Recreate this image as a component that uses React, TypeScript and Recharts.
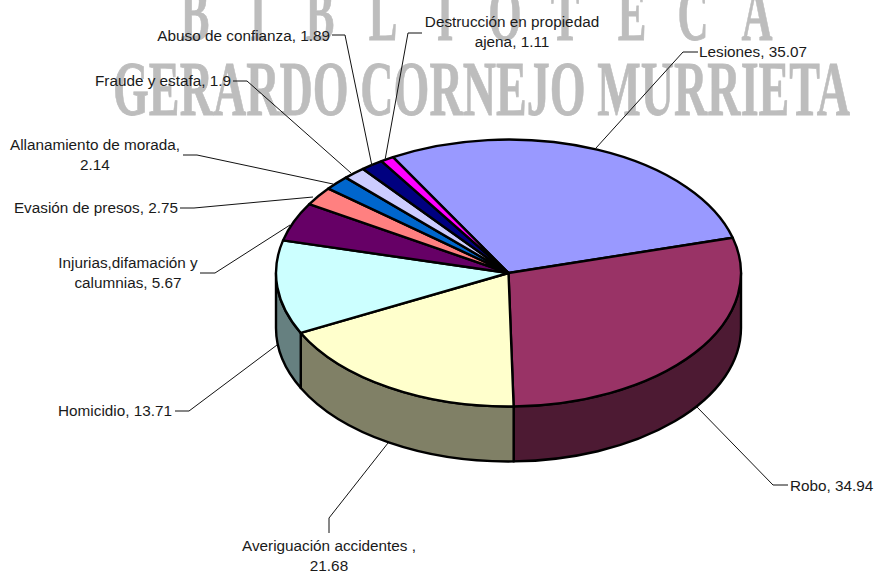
// App.tsx - 3D looking pie of offences, elliptical sectors drawn through Pie shape
import React from "react";
import { PieChart, Pie } from "recharts";

const categories = [
  "Lesiones",
  "Robo",
  "Averiguación accidentes",
  "Homicidio",
  "Injurias,difamación y calumnias",
  "Evasión de presos",
  "Allanamiento de morada",
  "Fraude y estafa",
  "Abuso de confianza",
  "Destrucción en propiedad ajena",
];
const values = [35.07, 34.94, 21.68, 13.71, 5.67, 2.75, 2.14, 1.9, 1.89, 1.11];
const topColors = ["#9999FF", "#993366", "#FFFFCC", "#CCFFFF", "#660066", "#FF8080", "#0066CC", "#CCCCFF", "#000080", "#FF00FF"];
const wallColors = ["#4D4D80", "#4D1A33", "#808066", "#668080", "#330033", "#804040", "#003366", "#666680", "#000040", "#800080"];

// label text, one entry per printed line
const labelText = [
  ["Lesiones, 35.07"],
  ["Robo, 34.94"],
  ["Averiguación accidentes ,", "21.68"],
  ["Homicidio, 13.71"],
  ["Injurias,difamación y", "calumnias, 5.67"],
  ["Evasión de presos, 2.75"],
  ["Allanamiento de morada,", "2.14"],
  ["Fraude y estafa, 1.9"],
  ["Abuso de confianza, 1.89"],
  ["Destrucción en propiedad", "ajena, 1.11"],
];
// where labels sit: x, y of first baseline, anchor
const labelPos: [number, number, "start" | "middle" | "end"][] = [
  [699, 57, "start"],
  [790, 491, "start"],
  [329, 551, "middle"],
  [172, 416, "end"],
  [128, 268, "middle"],
  [178, 213, "end"],
  [95, 150, "middle"],
  [231, 86, "end"],
  [330, 41, "end"],
  [512, 27, "middle"],
];
const leaderLines = [
  "698,52 683,52 596,148",
  "788,485 773,485 697,407",
  "329,533 329,518 388,443",
  "175,411 189,411 277,345",
  "200,273 215,273 290,225",
  "180,208 194,208 313,197",
  "183,155 197,155 333,184",
  "233,81 247,81 351,173",
  "332,35 345,35 372,166",
  "422,33 408,33 385,160",
];

// stamp behind the chart
const stampTop = ["B", "I", "B", "L", "I", "O", "T", "E", "C", "A"];
const stampTopX = [195, 258, 320, 383, 445, 505, 565, 632, 693, 757];
const stampBottom = "GERARDO CORNEJO MURRIETA";

const chartData = categories.map((name, i) => ({ name, value: values[i] }));

const WIDTH = 875;
const HEIGHT = 573;
const SQUASH = 0.574;
const DEPTH = 55;

const pt = (cx: number, cy: number, r: number, deg: number) => {
  const a = (deg * Math.PI) / 180;
  return [cx + r * Math.cos(a), cy - r * SQUASH * Math.sin(a)];
};

const TopSector = (props: any) => {
  const { cx, cy, outerRadius: r, startAngle, endAngle, index } = props;
  const [x1, y1] = pt(cx, cy, r, startAngle);
  const [x2, y2] = pt(cx, cy, r, endAngle);
  const large = Math.abs(startAngle - endAngle) > 180 ? 1 : 0;
  return (
    <path
      d={`M${cx},${cy} L${x1},${y1} A${r},${r * SQUASH} 0 ${large} 1 ${x2},${y2} Z`}
      fill={topColors[index]}
      stroke="#000"
      strokeWidth={2.4}
      strokeLinejoin="round"
    />
  );
};

// only the part of a slice facing the viewer (angles 0 to -180) shows a wall
const WallSector = (props: any) => {
  const { cx, cy, outerRadius: r, startAngle, endAngle, index } = props;
  const from = Math.min(startAngle, 0);
  const to = Math.max(endAngle, -180);
  if (from <= to) return <g />;
  const [x1, y1] = pt(cx, cy, r, from);
  const [x2, y2] = pt(cx, cy, r, to);
  const ry = r * SQUASH;
  return (
    <path
      d={`M${x1},${y1} A${r},${ry} 0 0 1 ${x2},${y2} L${x2},${y2 + DEPTH} A${r},${ry} 0 0 0 ${x1},${y1 + DEPTH} Z`}
      fill={wallColors[index]}
      stroke="#000"
      strokeWidth={2.4}
      strokeLinejoin="round"
    />
  );
};

const SliceLabel = (props: any) => {
  const i = props.index;
  const [x, y, anchor] = labelPos[i];
  return (
    <g>
      <polyline points={leaderLines[i]} fill="none" stroke="#111" strokeWidth={1} />
      <text x={x} y={y} textAnchor={anchor} fontFamily="Liberation Sans" fontSize={15.3} fill="#1a1a1a">
        {labelText[i].map((line, k) => (
          <tspan key={k} x={x} dy={k === 0 ? 0 : 20}>
            {line}
          </tspan>
        ))}
      </text>
    </g>
  );
};

const App = () => (
  <div style={{ position: "absolute", left: 0, top: 0, width: WIDTH, height: HEIGHT, background: "#fff" }}>
    <svg width={WIDTH} height={HEIGHT} style={{ position: "absolute", left: 0, top: 0 }}>
      <g fontFamily="Liberation Serif" fontWeight="bold" fontSize={78} fill="#bdbdbd" stroke="#bdbdbd" strokeWidth={0.8}>
        <text x={113} y={115} textLength={737} lengthAdjust="spacingAndGlyphs">
          {stampBottom}
        </text>
        {stampTop.map((letter, i) => (
          <text key={i} textAnchor="middle" transform={`translate(${stampTopX[i]},40) scale(0.55,1)`}>
            {letter}
          </text>
        ))}
      </g>
    </svg>
    <div style={{ position: "absolute", left: 0, top: 0 }}>
      <PieChart width={WIDTH} height={HEIGHT} margin={{ top: 0, right: 0, bottom: 0, left: 0 }}>
        <Pie
          data={chartData}
          dataKey="value"
          cx={508.5}
          cy={273}
          outerRadius={232.5}
          startAngle={119.8}
          endAngle={-240.2}
          paddingAngle={0}
          shape={WallSector}
          isAnimationActive={false}
          label={false}
          labelLine={false}
        />
        <Pie
          data={chartData}
          dataKey="value"
          cx={508.5}
          cy={273}
          outerRadius={232.5}
          startAngle={119.8}
          endAngle={-240.2}
          paddingAngle={0}
          shape={TopSector}
          isAnimationActive={false}
          label={SliceLabel}
          labelLine={false}
        />
      </PieChart>
    </div>
  </div>
);

export default App;
